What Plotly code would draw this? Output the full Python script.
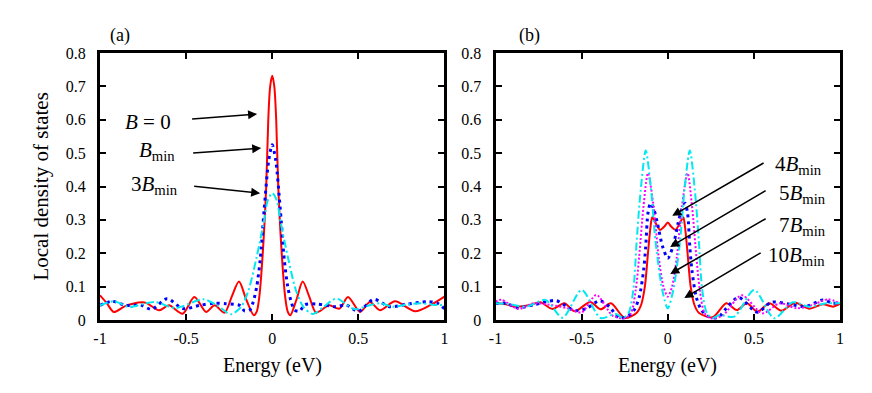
import plotly.graph_objects as go
from plotly.subplots import make_subplots

# ---- panel (a) ----
a_red_x = [-1.0, -0.96, -0.92, -0.86, -0.81, -0.735, -0.657, -0.6, -0.52, -0.452, -0.384, -0.335, -0.277, -0.235,
           -0.193, -0.15, -0.107, -0.09, -0.075, -0.055, -0.035, -0.023, -0.012, 0.0, 0.012, 0.023, 0.035, 0.055,
           0.075, 0.09, 0.105, 0.14, 0.177, 0.215, 0.255, 0.33, 0.39, 0.44, 0.51, 0.567, 0.626, 0.713, 0.83, 0.92, 1.0]
a_red_y = [0.074, 0.05, 0.024, 0.04, 0.049, 0.052, 0.029, 0.044, 0.019, 0.069, 0.024, 0.044, 0.022, 0.07,
           0.115, 0.06, 0.014, 0.025, 0.07, 0.2, 0.4, 0.6, 0.7, 0.732, 0.7, 0.6, 0.4, 0.2,
           0.07, 0.025, 0.014, 0.06, 0.115, 0.07, 0.022, 0.044, 0.034, 0.069, 0.024, 0.054, 0.029, 0.056, 0.026, 0.045, 0.07]

a_blue_x = [-1.0, -0.93, -0.85, -0.76, -0.7, -0.61, -0.52, -0.42, -0.34, -0.27, -0.19, -0.16, -0.13, -0.11, -0.09,
            -0.07, -0.047, -0.02, 0.0, 0.02, 0.047, 0.07, 0.09, 0.11, 0.13, 0.158, 0.19, 0.26, 0.37, 0.43, 0.5,
            0.59, 0.68, 0.78, 0.9, 0.96, 1.0]
a_blue_y = [0.044, 0.056, 0.044, 0.044, 0.032, 0.064, 0.034, 0.044, 0.05, 0.049, 0.044, 0.027, 0.03, 0.055, 0.1,
            0.18, 0.33, 0.48, 0.525, 0.48, 0.33, 0.18, 0.1, 0.055, 0.03, 0.026, 0.046, 0.048, 0.04, 0.045, 0.026,
            0.062, 0.04, 0.047, 0.055, 0.05, 0.034]

a_cyan_x = [-1.0, -0.92, -0.83, -0.75, -0.68, -0.563, -0.4, -0.32, -0.24, -0.18, -0.137, -0.09, -0.05, -0.025, 0.0,
            0.025, 0.05, 0.09, 0.137, 0.18, 0.236, 0.3, 0.372, 0.48, 0.55, 0.626, 0.7, 0.78, 0.86, 0.93, 1.0]
a_cyan_y = [0.044, 0.056, 0.039, 0.048, 0.054, 0.036, 0.062, 0.044, 0.017, 0.04, 0.09, 0.19, 0.29, 0.36, 0.38,
            0.36, 0.29, 0.19, 0.09, 0.04, 0.018, 0.04, 0.064, 0.032, 0.042, 0.05, 0.04, 0.046, 0.05, 0.046, 0.044]

# ---- panel (b) ----
b_red_x = [-1.0, -0.95, -0.88, -0.8, -0.74, -0.67, -0.6, -0.54, -0.45, -0.39, -0.33, -0.25, -0.18, -0.155, -0.133,
           -0.115, -0.1, -0.09, -0.07, -0.045, -0.02, 0.0, 0.02, 0.045, 0.07, 0.09, 0.1, 0.115, 0.133, 0.155, 0.18,
           0.26, 0.34, 0.4, 0.46, 0.52, 0.59, 0.66, 0.74, 0.82, 0.9, 0.96, 1.0]
b_red_y = [0.05, 0.048, 0.04, 0.045, 0.053, 0.033, 0.05, 0.026, 0.054, 0.032, 0.05, 0.006, 0.022, 0.045, 0.1,
           0.2, 0.28, 0.308, 0.29, 0.27, 0.28, 0.292, 0.28, 0.27, 0.29, 0.308, 0.28, 0.2, 0.1, 0.045, 0.022,
           0.008, 0.05, 0.03, 0.05, 0.025, 0.05, 0.028, 0.052, 0.034, 0.047, 0.04, 0.048]

b_blue_x = [-1.0, -0.94, -0.87, -0.78, -0.7, -0.647, -0.54, -0.47, -0.396, -0.34, -0.28, -0.23, -0.195, -0.165,
            -0.14, -0.128, -0.115, -0.1, -0.08, -0.06, -0.03, 0.0, 0.03, 0.06, 0.08, 0.1, 0.115, 0.128, 0.14, 0.165,
            0.195, 0.23, 0.29, 0.34, 0.41, 0.52, 0.6, 0.7, 0.8, 0.9, 0.96, 1.0]
b_blue_y = [0.05, 0.05, 0.037, 0.045, 0.055, 0.058, 0.028, 0.035, 0.058, 0.04, 0.006, 0.012, 0.03, 0.07,
            0.15, 0.22, 0.32, 0.35, 0.33, 0.29, 0.22, 0.185, 0.22, 0.29, 0.33, 0.35, 0.32, 0.22, 0.15, 0.07,
            0.03, 0.012, 0.007, 0.035, 0.068, 0.023, 0.053, 0.048, 0.04, 0.06, 0.05, 0.052]

b_mag_x = [-1.0, -0.966, -0.87, -0.78, -0.68, -0.58, -0.5, -0.415, -0.32, -0.25, -0.214, -0.186, -0.166, -0.141,
           -0.115, -0.082, -0.053, -0.025, 0.0, 0.025, 0.053, 0.082, 0.115, 0.141, 0.166, 0.186, 0.214, 0.25, 0.32,
           0.43, 0.55, 0.65, 0.75, 0.84, 0.93, 1.0]
b_mag_y = [0.055, 0.061, 0.033, 0.05, 0.045, 0.035, 0.023, 0.075, 0.013, 0.005, 0.02, 0.09, 0.19, 0.34,
           0.44, 0.34, 0.19, 0.1, 0.07, 0.1, 0.19, 0.34, 0.44, 0.34, 0.19, 0.09, 0.02, 0.005, 0.014,
           0.074, 0.02, 0.05, 0.035, 0.045, 0.062, 0.05]

b_cyan_x = [-1.0, -0.92, -0.82, -0.71, -0.61, -0.5, -0.39, -0.3, -0.26, -0.228, -0.2, -0.18, -0.157, -0.128,
            -0.097, -0.072, -0.032, 0.0, 0.032, 0.072, 0.097, 0.128, 0.157, 0.18, 0.2, 0.228, 0.26, 0.3, 0.386,
            0.502, 0.618, 0.725, 0.82, 0.92, 1.0]
b_cyan_y = [0.05, 0.047, 0.04, 0.06, 0.007, 0.09, 0.006, 0.018, 0.006, 0.02, 0.09, 0.24, 0.39, 0.508,
            0.39, 0.24, 0.09, 0.035, 0.09, 0.24, 0.39, 0.508, 0.39, 0.24, 0.09, 0.02, 0.006, 0.015, 0.01,
            0.09, 0.005, 0.053, 0.04, 0.05, 0.05]

x_ticks = [-1, -0.5, 0, 0.5, 1]
x_tick_text = ["-1", "-0.5", "0", "0.5", "1"]
y_ticks = [0, 0.1, 0.2, 0.3, 0.4, 0.5, 0.6, 0.7, 0.8]
y_tick_text = ["0", "0.1", "0.2", "0.3", "0.4", "0.5", "0.6", "0.7", "0.8"]

FONT = "Liberation Serif"
RED = "#ff0000"
BLUE = "#0000ff"
CYAN = "#00e8f0"
MAG = "#ff00ff"

fig = make_subplots(rows=1, cols=2, horizontal_spacing=0.069)

def line(x, y, color, width, dash, col):
    fig.add_trace(go.Scatter(x=x, y=y, mode="lines", showlegend=False,
                             line=dict(color=color, width=width, dash=dash, shape="spline", smoothing=0.8)),
                  row=1, col=col)

line(a_red_x, a_red_y, RED, 2, "solid", 1)
line(a_blue_x, a_blue_y, BLUE, 3, "3px,4px", 1)
line(a_cyan_x, a_cyan_y, CYAN, 2, "8px,3px,2px,3px", 1)

line(b_red_x, b_red_y, RED, 2, "solid", 2)
line(b_blue_x, b_blue_y, BLUE, 3, "3px,4px", 2)
line(b_mag_x, b_mag_y, MAG, 2, "2px,2px", 2)
line(b_cyan_x, b_cyan_y, CYAN, 2, "8px,3px,2px,3px", 2)

axis_common = dict(showline=True, linewidth=3, linecolor="black", mirror="ticks", ticks="inside",
                   ticklen=6, tickwidth=2, tickcolor="black", showgrid=False, zeroline=False,
                   tickfont=dict(family=FONT, size=16, color="black"))
for c in (1, 2):
    fig.update_xaxes(range=[-1, 1], tickvals=x_ticks, ticktext=x_tick_text, ticklabelstandoff=2,
                     row=1, col=c, **axis_common)
    fig.update_yaxes(range=[0, 0.8], tickvals=y_ticks, ticktext=y_tick_text, ticklabelstandoff=8,
                     row=1, col=c, **axis_common)

ann_font = dict(family=FONT, size=21, color="black")

# arrows: (text, text_x, text_y, tail_x, tail_y, head_x, head_y, panel)
labels = [
    ("<i>B</i> = 0", -0.72, 0.593, -0.474, 0.602, -0.088, 0.617, 1),
    ("<i>B</i><sub>min</sub>", -0.67, 0.505, -0.468, 0.500, -0.064, 0.515, 1),
    ("3<i>B</i><sub>min</sub>", -0.684, 0.405, -0.462, 0.401, -0.07, 0.380, 1),
    ("4<i>B</i><sub>min</sub>", 0.76, 0.465, 0.565, 0.473, 0.026, 0.312, 2),
    ("5<i>B</i><sub>min</sub>", 0.78, 0.378, 0.577, 0.390, 0.014, 0.219, 2),
    ("7<i>B</i><sub>min</sub>", 0.78, 0.283, 0.577, 0.306, 0.014, 0.138, 2),
    ("10<i>B</i><sub>min</sub>", 0.75, 0.193, 0.548, 0.204, 0.096, 0.066, 2),
]
for text, tx, ty, ax, ay, hx, hy, p in labels:
    xr = "x" if p == 1 else "x2"
    yr = "y" if p == 1 else "y2"
    fig.add_annotation(x=hx, y=hy, ax=ax, ay=ay, xref=xr, yref=yr, axref=xr, ayref=yr, text="",
                       showarrow=True, arrowhead=2, arrowsize=1.2, arrowwidth=1.5, arrowcolor="black")
    fig.add_annotation(x=tx, y=ty, xref=xr, yref=yr, text=text, showarrow=False, font=ann_font,
                       xanchor="center", yanchor="middle")

for p, lab, lx in ((1, "(a)", 0.058), (2, "(b)", 0.1)):
    xr = "x domain" if p == 1 else "x2 domain"
    yr = "y domain" if p == 1 else "y2 domain"
    fig.add_annotation(x=lx, y=1.064, xref=xr, yref=yr, text=lab, showarrow=False,
                       xanchor="center", yanchor="middle", font=dict(family=FONT, size=18, color="black"))
    fig.add_annotation(x=0.5, y=-0.169, xref=xr, yref=yr, text="Energy (eV)", showarrow=False,
                       xanchor="center", yanchor="middle", font=dict(family=FONT, size=20, color="black"))

fig.add_annotation(x=-0.081, y=0.5, xref="paper", yref="paper", text="Local density of states",
                   textangle=-90, showarrow=False, xanchor="center", yanchor="middle",
                   font=dict(family=FONT, size=21, color="black"))

# page body adds an 8px offset, so margins are trimmed to keep the frames in place
fig.update_layout(width=872, height=393, margin=dict(l=92, r=40, t=45, b=81),
                  plot_bgcolor="white", paper_bgcolor="white")

fig.write_html("out.html")
